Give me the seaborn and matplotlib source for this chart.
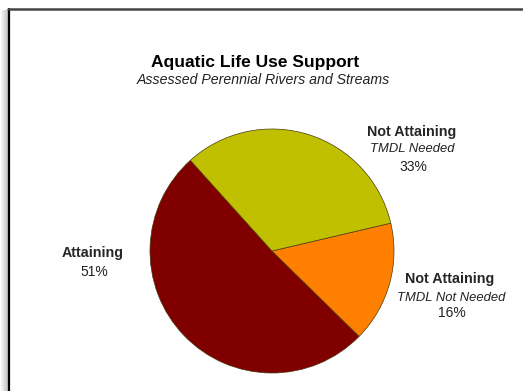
import matplotlib
matplotlib.use("Agg")
import matplotlib.pyplot as plt
from matplotlib.patches import Rectangle
import seaborn as sns

categories = ["Attaining", "Not Attaining - TMDL Not Needed", "Not Attaining - TMDL Needed"]
values = [51, 16, 33]
colors = ["#800000", "#FF8000", "#C0C000"]

sns.set_theme(style="white")
plt.rcParams['font.family'] = ['Liberation Sans', 'DejaVu Sans']

W, H = 523, 391
fig = plt.figure(figsize=(W / 100, H / 100), dpi=100)
fig.patch.set_facecolor("white")

def fx(x):
    return x / W

def fy(y):
    return 1 - y / H

# pie axes
cx, cy, r = 272, 251, 122
ax = fig.add_axes([fx(cx - r), fy(cy + r), 2 * r / W, 2 * r / H])
ax.pie(values, colors=colors, startangle=132, counterclock=True,
       wedgeprops=dict(edgecolor="#4a3a10", linewidth=0.5))
ax.set_xlim(-1.0, 1.0)
ax.set_ylim(-1.0, 1.0)
ax.axis("off")

# border with shadow
for i, g in enumerate(["#f4f4f4", "#ececec", "#e4e4e4", "#dcdcdc", "#d4d4d4", "#cccccc", "#c4c4c4"]):
    fig.add_artist(Rectangle((fx(1 + i), 0), 1 / W, fy(10), transform=fig.transFigure,
                             facecolor=g, edgecolor="none"))
fig.add_artist(plt.Line2D([fx(9), fx(9)], [0, fy(8.5)], transform=fig.transFigure,
                          color="black", linewidth=1.6))
fig.add_artist(plt.Line2D([fx(8.2), 1], [fy(9), fy(9)], transform=fig.transFigure,
                          color="#444444", linewidth=1.8))

# titles
fig.text(fx(255), fy(62), "Aquatic Life Use Support", ha="center", va="center",
         fontsize=12.5, fontweight="bold", color="black")
fig.text(fx(263), fy(80), "Assessed Perennial Rivers and Streams", ha="center", va="center",
         fontsize=10.2, fontstyle="italic", color="#222222")

# slice labels
bold_fs, ital_fs, pct_fs = 10.3, 9.4, 10
fig.text(fx(93), fy(253), "Attaining", ha="center", va="center", fontsize=bold_fs, fontweight="bold")
fig.text(fx(94), fy(272), f"{values[0]}%", ha="center", va="center", fontsize=pct_fs, color="#222222")

fig.text(fx(412), fy(132), "Not Attaining", ha="center", va="center", fontsize=bold_fs, fontweight="bold")
fig.text(fx(412), fy(149), "TMDL Needed", ha="center", va="center", fontsize=ital_fs, fontstyle="italic", color="#222222")
fig.text(fx(413), fy(167), f"{values[2]}%", ha="center", va="center", fontsize=pct_fs, color="#222222")

fig.text(fx(450), fy(279), "Not Attaining", ha="center", va="center", fontsize=bold_fs, fontweight="bold")
fig.text(fx(451), fy(298), "TMDL Not Needed", ha="center", va="center", fontsize=ital_fs, fontstyle="italic", color="#222222")
fig.text(fx(452), fy(313), f"{values[1]}%", ha="center", va="center", fontsize=pct_fs, color="#222222")

fig.savefig("out.png", dpi=100, facecolor="white")
